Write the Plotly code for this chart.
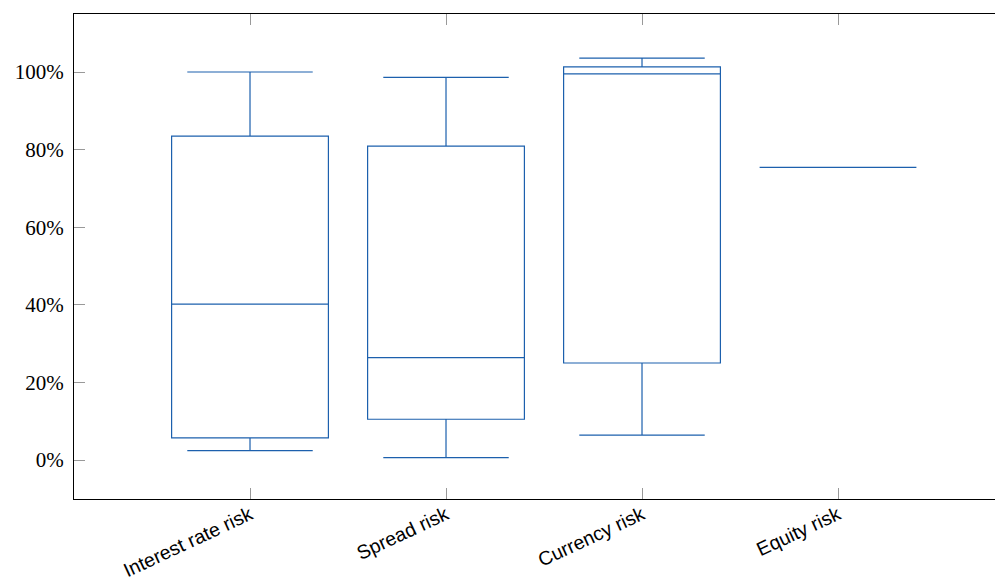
import plotly.graph_objects as go

categories = ["Interest rate risk", "Spread risk", "Currency risk", "Equity risk"]
lower_whisker = [2.4, 0.6, 6.4, 75.4]
q1 = [5.7, 10.5, 25.0, 75.4]
median = [40.2, 26.4, 99.5, 75.4]
q3 = [83.5, 80.9, 101.3, 75.4]
upper_whisker = [100.0, 98.6, 103.6, 75.4]

y_ticks = [0, 20, 40, 60, 80, 100]

color = "#1c60ad"

fig = go.Figure()
fig.add_trace(go.Box(
    x=categories,
    q1=q1, median=median, q3=q3,
    lowerfence=lower_whisker, upperfence=upper_whisker,
    line=dict(color=color, width=1.2),
    fillcolor="rgba(0,0,0,0)",
    whiskerwidth=0.8,
    boxpoints=False,
    hoverinfo="skip",
    showlegend=False,
))

fig.update_layout(
    width=987, height=572,
    margin=dict(l=66, r=0, t=6, b=81, autoexpand=False),
    paper_bgcolor="white", plot_bgcolor="white",
    boxgap=0.2, boxgroupgap=0,
    showlegend=False,
)
fig.update_xaxes(
    type="category",
    categoryorder="array", categoryarray=categories,
    range=[-0.898, 3.801],
    showgrid=False, zeroline=False,
    showline=True, linecolor="black", linewidth=1,
    mirror="ticks",
    ticks="inside", ticklen=11, tickcolor="#999999", tickwidth=1,
    tickangle=-25,
    ticklabelstandoff=-4,
    tickfont=dict(family="Liberation Sans, Arial, sans-serif", size=19.5, color="black"),
    automargin=False,
)
fig.update_yaxes(
    range=[-10.05, 114.95],
    tickvals=y_ticks, ticktext=[f"{v}%" for v in y_ticks],
    showgrid=False, zeroline=False,
    showline=True, linecolor="black", linewidth=1,
    ticks="inside", ticklen=11, tickcolor="#999999", tickwidth=1,
    ticklabelstandoff=5,
    tickfont=dict(family="Liberation Serif, DejaVu Serif, serif", size=21, color="black"),
    automargin=False,
)

fig.write_html("out.html")
